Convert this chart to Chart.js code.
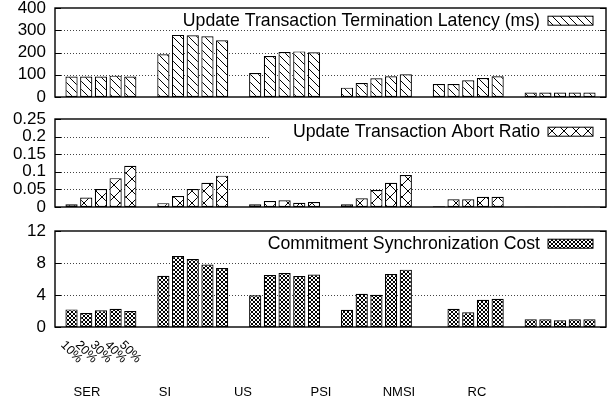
<!DOCTYPE html>
<html><head><meta charset="utf-8">
<script src="https://cdn.jsdelivr.net/npm/chart.js@4"></script>
<style>
html,body{margin:0;padding:0;background:#fff;overflow:hidden;width:611px;height:402px}
canvas{position:absolute;left:0;display:block}
</style></head><body>
<canvas id="c1" width="611" height="107" style="top:0px"></canvas>
<canvas id="c2" width="611" height="105" style="top:107px"></canvas>
<canvas id="c3" width="611" height="190" style="top:212px"></canvas>
<script>
const categories = ['SER','SI','US','PSI','NMSI','RC'];
const ratioLabels = ['10%','20%','30%','40%','50%'];
// rows = update ratio (10%..50%), columns = categories
const latency = [
  [92, 192, 108, 42, 58, 20],
  [92, 279, 184, 63, 58, 20],
  [92, 277, 202, 84, 75, 20],
  [96, 273, 205, 93, 85, 20],
  [92, 255, 201, 102, 93, 20]
];
const abortRatio = [
  [0.008, 0.011, 0.008, 0.008, 0.002, 0.001],
  [0.027, 0.031, 0.017, 0.025, 0.022, 0.001],
  [0.051, 0.051, 0.019, 0.048, 0.022, 0.001],
  [0.082, 0.069, 0.012, 0.069, 0.029, 0.001],
  [0.117, 0.089, 0.014, 0.091, 0.029, 0.001]
];
const syncCost = [
  [2.2, 6.4, 3.97, 2.16, null, 0.96],
  [1.74, 8.87, 6.5, 4.15, 2.28, 0.96],
  [2.1, 8.5, 6.75, 4.03, 1.83, 0.83],
  [2.28, 7.8, 6.38, 6.63, 3.4, 0.96],
  [2.0, 7.38, 6.55, 7.17, 3.53, 0.96]
];
const latencyTicks = [0,100,200,300,400];
const abortTicks = [0,0.05,0.1,0.15,0.2,0.25];
const costTicks = [0,4,8,12];
const panelTitles = ['Update Transaction Termination Latency (ms)','Update Transaction Abort Ratio','Commitment Synchronization Cost'];

const FONT = '"Liberation Sans", Arial, Helvetica, sans-serif';
Chart.defaults.font.family = FONT;
Chart.defaults.color = '#000';

function makePattern(size, dirs, lw){
  const c = document.createElement('canvas'); c.width = size; c.height = size;
  const g = c.getContext('2d');
  g.fillStyle = '#fff'; g.fillRect(0,0,size,size);
  g.strokeStyle = '#000'; g.lineWidth = lw;
  g.beginPath();
  for (const o of [-size,0,size]) {
    if (dirs.indexOf('b') >= 0) { g.moveTo(o,0); g.lineTo(o+size,size); }
    if (dirs.indexOf('f') >= 0) { g.moveTo(o+size,0); g.lineTo(o,size); }
  }
  g.stroke();
  return g.createPattern(c,'repeat');
}
const patDiag = makePattern(8,'b',1);
const patCross = makePattern(12,'bf',1);
const patDense = makePattern(4,'bf',1);

const framePlugin = {
  id:'frame',
  beforeDatasetsDraw(chart){
    const ctx = chart.ctx, a = chart.chartArea, y = chart.scales.y;
    ctx.save();
    ctx.strokeStyle = '#444'; ctx.lineWidth = 1; ctx.setLineDash([1,2]);
    y.ticks.forEach(t => {
      if (t.value > y.min && t.value < y.max) {
        const py = Math.round(y.getPixelForValue(t.value)) + 0.5;
        ctx.beginPath(); ctx.moveTo(a.left, py); ctx.lineTo(a.right, py); ctx.stroke();
      }
    });
    ctx.restore();
  },
  afterDatasetsDraw(chart, args, opts){
    const ctx = chart.ctx, a = chart.chartArea, y = chart.scales.y;
    ctx.save();
    ctx.font = '17.7px ' + FONT;
    const w = ctx.measureText(opts.title).width;
    const cy = a.top + 12.7;
    const tr = a.right - 66;
    const bl = tr - w - 23;
    ctx.fillStyle = '#fff';
    ctx.fillRect(bl, a.top + 1, a.right - 6 - bl, cy + 8 - a.top - 1);
    ctx.fillStyle = '#000'; ctx.textAlign = 'right'; ctx.textBaseline = 'middle';
    ctx.fillText(opts.title, tr, cy);
    ctx.fillStyle = opts.pattern;
    ctx.fillRect(a.right - 58, cy - 4.5, 45, 9);
    ctx.strokeStyle = '#000'; ctx.lineWidth = 1;
    ctx.strokeRect(a.right - 58, cy - 4.5, 45, 9);
    // frame
    ctx.lineWidth = 1.4;
    ctx.strokeRect(a.left, a.top, a.right - a.left, a.bottom - a.top);
    ctx.lineWidth = 1;
    y.ticks.forEach(t => {
      const py = Math.round(y.getPixelForValue(t.value)) + 0.5;
      ctx.beginPath();
      ctx.moveTo(a.left, py); ctx.lineTo(a.left + 6, py);
      ctx.moveTo(a.right, py); ctx.lineTo(a.right - 6, py);
      ctx.stroke();
    });
    ctx.restore();
  }
};

const ratioLabelPlugin = {
  id:'ratioLabels',
  afterDraw(chart){
    const ctx = chart.ctx, a = chart.chartArea;
    ctx.save();
    ctx.font = '12.5px ' + FONT; ctx.fillStyle = '#000';
    ctx.textAlign = 'center'; ctx.textBaseline = 'middle';
    ratioLabels.forEach((lab, i) => {
      const bar = chart.getDatasetMeta(i).data[0];
      ctx.save();
      ctx.translate(bar.x, a.bottom + 25);
      ctx.rotate(Math.PI / 4);
      ctx.fillText(lab, 0, 0);
      ctx.restore();
    });
    ctx.restore();
  }
};

function datasets(rows, pattern){
  return rows.map((r,i) => ({
    label: ratioLabels[i], data: r, backgroundColor: pattern,
    borderColor: '#000', borderWidth: 1.2, borderSkipped: false,
    categoryPercentage: 0.8, barPercentage: 0.83
  }));
}

function build(id, rows, ticks, title, pattern, pad, extraScales, extraPlugins){
  const scales = Object.assign({
    x: { type:'category', display:false, offset:true, grid:{display:false} },
    y: {
      min: ticks[0], max: ticks[ticks.length-1],
      grid:{display:false, drawTicks:false}, border:{display:false},
      afterBuildTicks: s => { s.ticks = ticks.map(v => ({value:v})); },
      ticks:{ font:{size:17}, color:'#000', padding:9, autoSkip:false, callback: v => String(v) },
      afterFit: s => { s.width = 55; s.paddingTop = 0; s.paddingBottom = 0; }
    }
  }, extraScales || {});
  return new Chart(document.getElementById(id), {
    type:'bar',
    data:{ labels: categories, datasets: datasets(rows, pattern) },
    options:{
      responsive:false, animation:false, devicePixelRatio:1,
      layout:{ padding: pad },
      plugins:{ legend:{display:false}, tooltip:{enabled:false}, frame:{ title: title, pattern: pattern } },
      scales: scales
    },
    plugins:[framePlugin].concat(extraPlugins || [])
  });
}

build('c1', latency, latencyTicks, panelTitles[0], patDiag, {top:8, bottom:10, left:0, right:5});
build('c2', abortRatio, abortTicks, panelTitles[1], patCross, {top:12, bottom:5, left:0, right:5});
build('c3', syncCost, costTicks, panelTitles[2], patDense, {top:19, bottom:0, left:0, right:5}, {
  xl: {
    type:'linear', position:'bottom', min:-0.41, max:6.654, offset:false,
    grid:{display:false, drawTicks:false, offset:false}, border:{display:false},
    afterBuildTicks: s => { s.ticks = categories.map((c,i) => ({value:i})); },
    ticks:{ font:{size:13}, color:'#000', padding:58, maxRotation:0, autoSkip:false, callback: v => categories[v] },
    afterFit: s => { s.height = 75; s.paddingLeft = 0; s.paddingRight = 0; }
  }
}, [ratioLabelPlugin]);
</script>
</body></html>
